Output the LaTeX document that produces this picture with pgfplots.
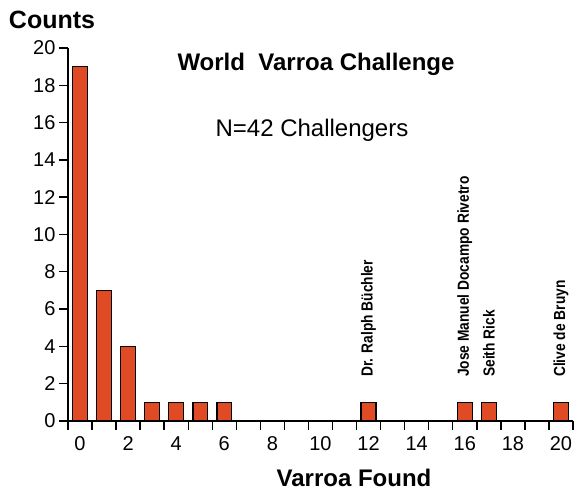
\documentclass[border=0pt]{standalone}
\usepackage{fontspec}
\setmainfont{Liberation Sans}
\newfontfamily\narrowfont[FakeStretch=0.86]{Liberation Sans}
\usepackage{pgfplots}
\pgfplotsset{compat=1.18}
\definecolor{barred}{RGB}{224,74,36}
\begin{document}
\begin{tikzpicture}
\useasboundingbox (0,0) rectangle (579pt,492pt);
\begin{axis}[
  at={(68pt,71pt)}, anchor=south west,
  scale only axis, width=505pt, height=373pt,
  xmin=-0.5, xmax=20.5, ymin=0, ymax=20,
  axis x line*=bottom, axis y line*=left,
  axis line style={line width=1.4pt},
  tick align=outside,
  ytick={0,2,...,20},
  xtick={0,2,...,20},
  minor xtick={-0.5,0.5,...,20.5},
  major x tick style={draw=none},
  every tick/.style={line width=1.4pt, black},
  major tick length=9pt, minor tick length=9pt,
  /pgf/number format/assume math mode=true,
  ticklabel style={font=\fontsize{20}{24}\selectfont},
  xticklabel style={yshift=-3pt},
  clip=false,
]
\addplot[ybar, bar width=0.62, fill=barred, draw=black, line width=1.4pt] coordinates {
  (0,19) (1,7) (2,4) (3,1) (4,1) (5,1) (6,1) (12,1) (16,1) (17,1) (20,1)
};
\node[rotate=90, anchor=west, inner sep=0pt, font=\narrowfont\fontsize{16}{18}\selectfont\bfseries] at (axis cs:12,2.36) {Dr. Ralph Büchler};
\node[rotate=90, anchor=west, inner sep=0pt, font=\narrowfont\fontsize{16}{18}\selectfont\bfseries] at (axis cs:16,2.36) {Jose Manuel Docampo Rivetro};
\node[rotate=90, anchor=west, inner sep=0pt, font=\narrowfont\fontsize{16}{18}\selectfont\bfseries] at (axis cs:17,2.36) {Seith Rick};
\node[rotate=90, anchor=west, inner sep=0pt, font=\narrowfont\fontsize{16}{18}\selectfont\bfseries] at (axis cs:20,2.36) {Clive de Bruyn};
\end{axis}
\node[font=\fontsize{25}{30}\selectfont\bfseries] at (52pt,472pt) {Counts};
\node[font=\fontsize{24}{28}\selectfont\bfseries] at (316pt,428pt) {World\ \ Varroa\ Challenge};
\node[font=\fontsize{24}{28}\selectfont] at (312pt,362pt) {N=42 Challengers};
\node[font=\fontsize{24}{28}\selectfont\bfseries] at (354pt,14pt) {Varroa Found};
\end{tikzpicture}
\end{document}
